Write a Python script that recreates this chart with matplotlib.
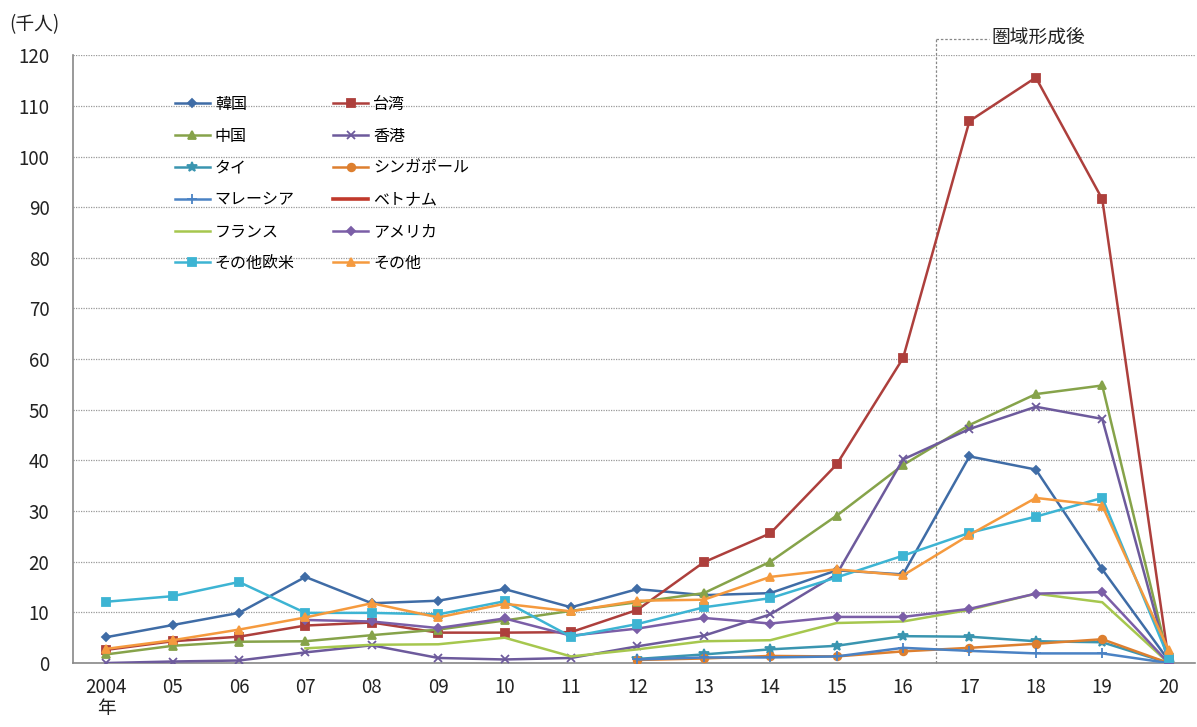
import numpy as np
import matplotlib

matplotlib.use('Agg')
import matplotlib.pyplot as plt

plt.rcParams['font.family'] = ['Noto Sans CJK JP', 'DejaVu Sans']

nan = np.nan
years = ['2004\n年', '05', '06', '07', '08', '09', '10', '11', '12',
         '13', '14', '15', '16', '17', '18', '19', '20']

korea = [5.1, 7.5, 9.9, 17.0, 11.8, 12.3, 14.6, 11.0, 14.6, 13.4, 13.8, 18.3, 17.5, 40.8, 38.2, 18.5, 0.5]
taiwan = [2.6, 4.3, 5.2, 7.4, 8.0, 6.0, 6.0, 6.1, 10.5, 19.9, 25.6, 39.2, 60.2, 107.0, 115.6, 91.6, 0.5]
china = [1.7, 3.4, 4.2, 4.3, 5.5, 6.6, 8.4, 10.3, 12.0, 13.8, 20.0, 29.1, 39.1, 47.0, 53.1, 54.8, 0.5]
hongkong = [0.0, 0.3, 0.5, 2.1, 3.5, 1.0, 0.7, 1.0, 3.3, 5.4, 9.6, 17.5, 40.2, 46.2, 50.6, 48.2, 0.0]
thai = [nan] * 8 + [0.8, 1.7, 2.7, 3.4, 5.3, 5.2, 4.3, 4.1, 0.0]
singapore = [nan] * 8 + [0.6, 0.9, 1.4, 1.3, 2.3, 3.0, 3.8, 4.7, 0.0]
malaysia = [nan] * 8 + [0.7, 1.1, 1.1, 1.3, 3.0, 2.4, 1.9, 1.9, 0.0]
vietnam = [nan] * 17
france = [nan, nan, nan, 2.9, 3.6, 3.7, 5.0, 1.3, 2.7, 4.3, 4.5, 7.9, 8.2, 10.5, 13.7, 12.0, 0.0]
usa = [nan, nan, nan, 8.5, 8.2, 6.9, 8.8, 5.4, 6.8, 8.9, 7.8, 9.1, 9.1, 10.7, 13.7, 14.0, 0.0]
other_west = [12.1, 13.2, 16.0, 9.9, 9.9, 9.6, 12.2, 5.2, 7.7, 11.0, 12.8, 16.9, 21.2, 25.7, 28.9, 32.6, 1.0]
other = [2.8, 4.5, 6.6, 9.0, 11.8, 9.0, 11.7, 10.2, 12.3, 12.5, 17.0, 18.5, 17.3, 25.3, 32.6, 31.1, 2.5]

series = [
    ('韓国', korea, '#3F6CA6', 'D', 4.5),
    ('台湾', taiwan, '#AD3F3C', 's', 5.5),
    ('中国', china, '#86A34A', '^', 6),
    ('香港', hongkong, '#6D5A9C', 'x', 6),
    ('タイ', thai, '#3A95B0', '*', 7),
    ('シンガポール', singapore, '#DD7F2F', 'o', 5.5),
    ('マレーシア', malaysia, '#4A82C4', '+', 7),
    ('ベトナム', vietnam, '#C0392B', None, 0),
    ('フランス', france, '#A6C74E', None, 0),
    ('アメリカ', usa, '#7B5EA7', 'D', 4.5),
    ('その他欧米', other_west, '#3DB4D3', 's', 5.5),
    ('その他', other, '#F59A3E', '^', 6),
]

fig = plt.figure(figsize=(11.97, 7.27), dpi=100)
ax = fig.add_axes([0.061, 0.088, 0.9375, 0.836])
x = np.arange(len(years))

handles = {}
for name, vals, col, mk, ms in series:
    lw = 2.6 if name == 'ベトナム' else 1.8
    h, = ax.plot(x, vals, color=col, marker=mk, markersize=ms, lw=lw,
                 markeredgewidth=1.3, label=name, zorder=3)
    handles[name] = h

ax.set_xlim(-0.5, 16.4)
ax.set_ylim(0, 120)
ax.set_yticks(np.arange(0, 121, 10))
ax.set_xticks(x)
ax.set_xticklabels(years, linespacing=1.0)
ax.tick_params(axis='both', length=0, labelsize=13.5, colors='#222222')
ax.tick_params(axis='x', pad=10)
ax.tick_params(axis='y', pad=17)
ax.grid(axis='y', linestyle=(0, (1, 1)), color='#999999', lw=0.9)
ax.set_axisbelow(True)
for s in ['top', 'right']:
    ax.spines[s].set_visible(False)
for s in ['left', 'bottom']:
    ax.spines[s].set_color('#888888')
    ax.spines[s].set_linewidth(1.2)

# 圏域形成後 marker
ax.plot([12.5, 12.5], [0, 123.3], color='#888888', lw=0.9, ls=(0, (2, 1.5)),
        clip_on=False, zorder=2)
ax.plot([12.5, 13.3], [123.3, 123.3], color='#888888', lw=0.9, ls=(0, (2, 1.5)),
        clip_on=False, zorder=2)
ax.text(13.33, 123.3, '圏域形成後', fontsize=13.5, va='center', ha='left', color='#222222')

fig.text(0.008, 0.966, '(千人)', fontsize=13.5, va='center', ha='left', color='#222222')

order = ['韓国', '中国', 'タイ', 'マレーシア', 'フランス', 'その他欧米',
         '台湾', '香港', 'シンガポール', 'ベトナム', 'アメリカ', 'その他']
ax.legend([handles[n] for n in order], order, ncol=2, frameon=False,
          loc='upper left', bbox_to_anchor=(0.078, 0.957), fontsize=11.5,
          handlelength=2.2, columnspacing=2.4, labelspacing=0.93,
          handletextpad=0.3)

fig.savefig('out.png', dpi=100)
